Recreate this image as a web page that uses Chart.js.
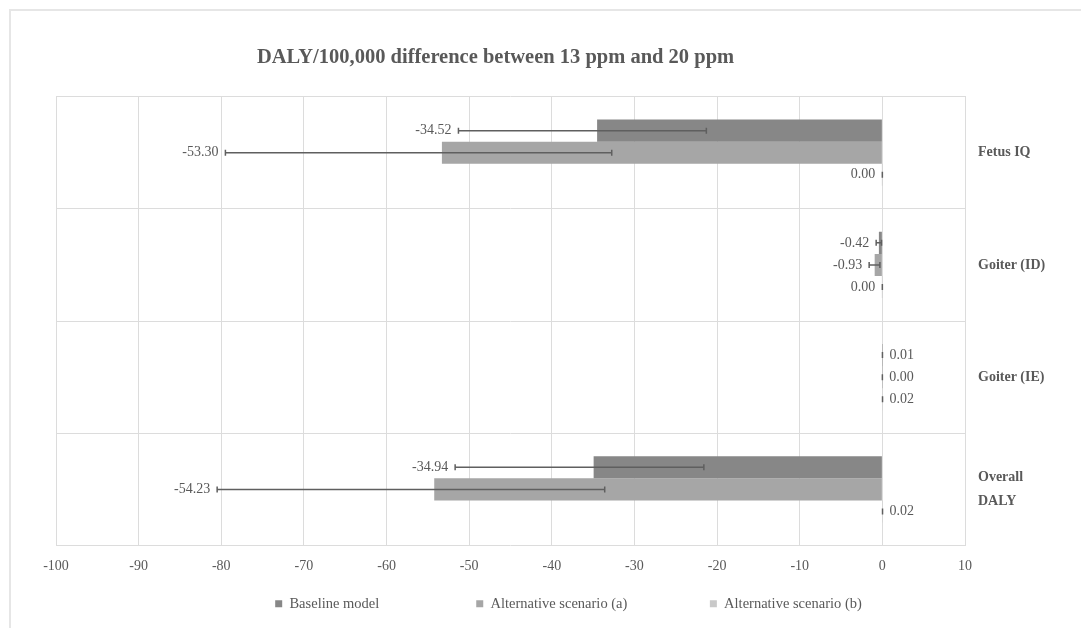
<!DOCTYPE html>
<html>
<head>
<meta charset="utf-8">
<script src="https://cdn.jsdelivr.net/npm/chart.js@4.4.1/dist/chart.umd.min.js"></script>
<style>
  html, body { margin: 0; padding: 0; background: #ffffff; }
  #wrap { position: relative; width: 1081px; height: 628px; }
  #frame { position: absolute; left: 9px; top: 9px; right: 0; bottom: 0;
           border-top: 2px solid #e6e6e6; border-left: 2px solid #e6e6e6; }
  canvas { position: absolute; left: 0; top: 0; }
</style>
</head>
<body>
<div id="wrap">
  <div id="frame"></div>
  <canvas id="c" width="1081" height="628"></canvas>
</div>
<script>
// ---- data ----
const categories = ['Fetus IQ', 'Goiter (ID)', 'Goiter (IE)', ['Overall', 'DALY']];
const seriesNames = ['Baseline model', 'Alternative scenario (a)', 'Alternative scenario (b)'];

const baselineValues = [-34.52, -0.42, 0.01, -34.94];
const baselineLow    = [-51.3, -0.75, 0.01, -51.7];
const baselineHigh   = [-21.3, -0.1, 0.01, -21.6];

const altAValues = [-53.30, -0.93, 0.001, -54.23];
const altALow    = [-79.5, -1.6, 0.001, -80.5];
const altAHigh   = [-32.75, -0.3, 0.001, -33.6];

const altBValues = [-0.001, -0.001, 0.02, 0.02];
const altBLow    = [-0.001, -0.001, 0.02, 0.02];
const altBHigh   = [-0.001, -0.001, 0.02, 0.02];

const xTickMin = -100, xTickMax = 10, xTickStep = 10;

const seriesColors = ['#878787', '#a6a6a6', '#c9c9c9'];
const errLows  = [baselineLow, altALow, altBLow];
const errHighs = [baselineHigh, altAHigh, altBHigh];
const legendGaps = ['\u2003\u2003\u2003\u2003\u2003\u2003', '\u2003\u2003\u2003\u2003\u2003', ''];

const TEXT = '#595959';
const SERIF = '"Liberation Serif", "DejaVu Serif", serif';

function fmt(v) {
  const r = Math.round(v * 100) / 100 || 0;
  return r.toFixed(2);
}

const titleShiftPlugin = {
  id: 'titleShift',
  afterLayout(chart) {
    const t = chart.titleBlock;
    if (t) { t.left -= 15; t.right -= 15; }
  }
};

const errorBarPlugin = {
  id: 'errorBars',
  afterDatasetsDraw(chart) {
    const ctx = chart.ctx;
    const xs = chart.scales.x;
    ctx.save();
    chart.data.datasets.forEach((ds, i) => {
      const meta = chart.getDatasetMeta(i);
      meta.data.forEach((bar, j) => {
        const y = bar.y;
        const xl = xs.getPixelForValue(errLows[i][j]);
        const xh = xs.getPixelForValue(errHighs[i][j]);
        ctx.strokeStyle = '#5f5f5f';
        ctx.lineWidth = 1.5;
        ctx.beginPath();
        ctx.moveTo(xl, y); ctx.lineTo(xh, y);
        ctx.moveTo(xl, y - 3); ctx.lineTo(xl, y + 3);
        ctx.moveTo(xh, y - 3); ctx.lineTo(xh, y + 3);
        ctx.stroke();
        const v = ds.data[j];
        ctx.fillStyle = TEXT;
        ctx.font = '14px ' + SERIF;
        ctx.textBaseline = 'middle';
        if (v < 0) {
          ctx.textAlign = 'right';
          ctx.fillText(fmt(v), Math.min(xl, xh) - 7, y);
        } else {
          ctx.textAlign = 'left';
          ctx.fillText(fmt(v), Math.max(xl, xh) + 7, y);
        }
      });
    });
    ctx.restore();
  }
};

new Chart(document.getElementById('c'), {
  type: 'bar',
  data: {
    labels: categories,
    datasets: [
      { label: seriesNames[0], data: baselineValues, backgroundColor: seriesColors[0] },
      { label: seriesNames[1], data: altAValues, backgroundColor: seriesColors[1] },
      { label: seriesNames[2], data: altBValues, backgroundColor: seriesColors[2] }
    ]
  },
  options: {
    indexAxis: 'y',
    responsive: false,
    animation: false,
    maintainAspectRatio: false,
    datasets: { bar: { categoryPercentage: 0.59, barPercentage: 1.0, borderWidth: 0 } },
    layout: { padding: { left: 56, right: 0, top: 0, bottom: 7 } },
    scales: {
      x: {
        min: xTickMin, max: xTickMax,
        ticks: { stepSize: xTickStep, color: TEXT, padding: 12, font: { family: SERIF, size: 14 } },
        grid: { color: '#dcdcdc', lineWidth: 1, drawTicks: false },
        border: { display: false },
        afterFit(scale) { scale.height = 41; }
      },
      y: {
        position: 'right',
        ticks: { color: TEXT, padding: 13, crossAlign: 'near', font: { family: SERIF, size: 14, weight: 'bold', lineHeight: 1.7 } },
        grid: { color: '#dcdcdc', lineWidth: 1, drawTicks: false, offset: true },
        border: { display: true, color: '#dcdcdc' },
        afterFit(scale) { scale.width = 116; }
      }
    },
    plugins: {
      title: {
        display: true,
        text: 'DALY/100,000 difference between 13 ppm and 20 ppm',
        fullSize: false,
        color: TEXT,
        font: { family: SERIF, size: 20.5, weight: 'bold' },
        padding: { top: 45, bottom: 27 }
      },
      legend: {
        position: 'bottom',
        labels: {
          color: TEXT,
          boxWidth: 7, boxHeight: 7,
          padding: 10,
          font: { family: SERIF, size: 14.5 },
          generateLabels(chart) {
            return chart.data.datasets.map((ds, i) => ({
              text: ds.label + legendGaps[i],
              fillStyle: ds.backgroundColor,
              strokeStyle: ds.backgroundColor,
              lineWidth: 0,
              fontColor: TEXT,
              datasetIndex: i
            }));
          }
        }
      },
      tooltip: { enabled: false }
    }
  },
  plugins: [titleShiftPlugin, errorBarPlugin]
});
</script>
</body>
</html>
